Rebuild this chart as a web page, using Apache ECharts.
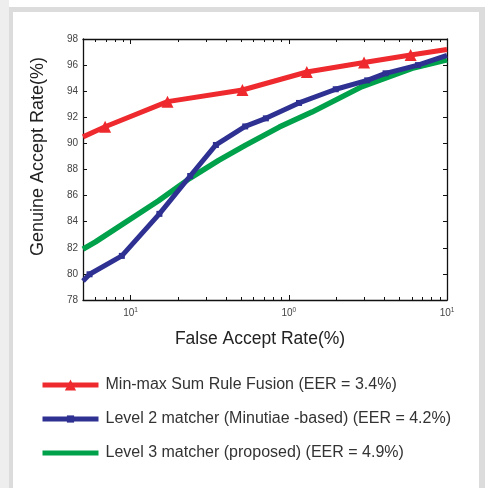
<!DOCTYPE html>
<html><head><meta charset="utf-8">
<script src="https://cdn.jsdelivr.net/npm/echarts@6/dist/echarts.min.js"></script>
<style>html,body{margin:0;padding:0;background:#fff}#c{width:488px;height:488px}</style>
</head><body><div id="c"></div>
<script>
// Data (FAR %, GAR %)
const seriesNames = [
  'Min-max Sum Rule Fusion (EER = 3.4%)',
  'Level 2 matcher (Minutiae -based) (EER = 4.2%)',
  'Level 3 matcher (proposed) (EER = 4.9%)'
];
const fusionFAR = [0.05, 0.069, 0.171, 0.509, 1.3, 2.99, 5.89, 10];
const fusionGAR = [90.5, 91.28, 93.2, 94.09, 95.47, 96.2, 96.77, 97.2];
const fusionMarked = [false, true, true, true, true, true, true, false];

const level2FAR = [0.05, 0.055, 0.088, 0.152, 0.238, 0.346, 0.53, 0.716, 1.16, 1.98, 3.13, 4.09, 6.55, 10];
const level2GAR = [79.45, 79.97, 81.38, 84.6, 87.5, 89.88, 91.3, 91.92, 93.1, 94.15, 94.83, 95.37, 96.0, 96.75];
const level2Marked = [false, true, true, true, true, true, true, true, true, true, true, true, true, false];

const level3FAR = [0.05, 0.06, 0.15, 0.235, 0.36, 0.53, 0.87, 1.4, 2.9, 6, 10];
const level3GAR = [81.9, 82.45, 85.6, 87.3, 88.7, 89.85, 91.25, 92.4, 94.35, 95.75, 96.4];

const xMajorTicks = [0.1, 1, 10];
const xTickLabels = {0.1: '10{s|1}', 1: '10{s|0}', 10: '10{s|1}'};
const xMinorTicks = [0.06, 0.07, 0.08, 0.09, 0.2, 0.3, 0.4, 0.5, 0.6, 0.7, 0.8, 0.9, 2, 3, 4, 5, 6, 7, 8, 9];
const yMin = 78, yMax = 98, yStep = 2;

function pts(xs, ys, marked) {
  return xs.map((x, i) => (marked && !marked[i]) ? {value: [x, ys[i]], symbol: 'none'} : [x, ys[i]]);
}

const FONT = 'Liberation Sans, Arial, sans-serif';
const xMin = 0.05, xMax = 10;
function xAx(pos, ticks, len, showLine, showLabel) {
  return {
    type: 'log', logBase: 10, min: xMin, max: xMax, position: pos,
    axisLine: {show: showLine, onZero: false, lineStyle: {color: '#111', width: 1.3}},
    axisTick: {show: true, inside: true, length: len, customValues: ticks, lineStyle: {color: '#111', width: 1}},
    splitLine: {show: false}, minorTick: {show: false},
    axisLabel: showLabel ? {
      show: true, customValues: xMajorTicks, margin: 7,
      formatter: v => { for (const k in xTickLabels) { if (Math.abs(Math.log10(v) - Math.log10(+k)) < 1e-6) return xTickLabels[k]; } return ''; },
      color: '#444', fontFamily: FONT, fontSize: 10,
      rich: {s: {fontSize: 6.5, verticalAlign: 'top', padding: [0, 0, 5, 0], color: '#444', fontFamily: FONT}}
    } : {show: false}
  };
}

const legendText = {fontFamily: FONT, fontSize: 16, color: '#333', padding: [0, 0, 0, 2]};
const chart = echarts.init(document.getElementById('c'), null, {renderer: 'canvas'});
chart.setOption({
  backgroundColor: '#ffffff',
  animation: false,
  graphic: [
    {type: 'rect', shape: {x: 0, y: 0, width: 9, height: 488}, style: {fill: '#eeeeee'}, silent: true},
    {type: 'rect', shape: {x: 9, y: 7, width: 4, height: 481}, style: {fill: '#dcdcdc'}, silent: true},
    {type: 'rect', shape: {x: 9, y: 7, width: 476, height: 5}, style: {fill: '#dcdcdc'}, silent: true},
    {type: 'rect', shape: {x: 479, y: 7, width: 6, height: 481}, style: {fill: '#dcdcdc'}, silent: true}
  ],
  grid: {left: 83, right: 41, top: 39, bottom: 188, containLabel: false},
  xAxis: [
    Object.assign(xAx('bottom', xMajorTicks, 5, true, true), {
      name: 'False Accept Rate(%)', nameLocation: 'middle', nameGap: 30,
      nameTextStyle: {fontFamily: FONT, fontSize: 17.5, color: '#222', padding: [0, 10, 0, 0]}
    }),
    xAx('bottom', xMinorTicks, 3, false, false),
    xAx('top', xMajorTicks, 5, true, false),
    xAx('top', xMinorTicks, 3, false, false)
  ],
  yAxis: [
    {
      type: 'value', min: yMin, max: yMax, interval: yStep, position: 'left',
      name: 'Genuine Accept Rate(%)', nameLocation: 'middle', nameGap: 36,
      nameTextStyle: {fontFamily: FONT, fontSize: 18, color: '#222', padding: [0, 0, 0, 26]},
      axisLine: {show: true, lineStyle: {color: '#111', width: 1.3}},
      axisTick: {show: true, inside: true, length: 4, lineStyle: {color: '#111'}},
      splitLine: {show: false},
      axisLabel: {color: '#444', fontFamily: FONT, fontSize: 10, margin: 5}
    },
    {
      type: 'value', min: yMin, max: yMax, interval: yStep, position: 'right',
      axisLine: {show: true, lineStyle: {color: '#111', width: 1.3}},
      axisTick: {show: true, inside: true, length: 4, lineStyle: {color: '#111'}},
      splitLine: {show: false}, axisLabel: {show: false}
    }
  ],
  legend: [
    {
      orient: 'vertical', left: 40, top: 377, padding: 0, itemWidth: 56, itemHeight: 14,
      textStyle: legendText, lineStyle: {width: 5},
      data: [seriesNames[0]]
    },
    {
      orient: 'vertical', left: 40, top: 411, padding: 0, itemWidth: 56, itemHeight: 9, itemGap: 18,
      textStyle: legendText, lineStyle: {width: 5},
      data: [seriesNames[1], {name: seriesNames[2], itemStyle: {opacity: 0}}]
    }
  ],
  series: [
    {
      name: seriesNames[2], type: 'line', xAxisIndex: 0, yAxisIndex: 0,
      data: pts(level3FAR, level3GAR), symbol: 'none', smooth: false,
      lineStyle: {color: '#00a14b', width: 5.5}, itemStyle: {color: '#00a14b'}, z: 2
    },
    {
      name: seriesNames[1], type: 'line', xAxisIndex: 0, yAxisIndex: 0,
      data: pts(level2FAR, level2GAR, level2Marked), symbol: 'rect', symbolSize: 6,
      lineStyle: {color: '#2e3192', width: 5}, itemStyle: {color: '#2e3192'}, z: 3
    },
    {
      name: seriesNames[0], type: 'line', xAxisIndex: 0, yAxisIndex: 0,
      data: pts(fusionFAR, fusionGAR, fusionMarked), symbol: 'triangle', symbolSize: 12,
      lineStyle: {color: '#ee2a2e', width: 5}, itemStyle: {color: '#ee2a2e'}, z: 4
    }
  ]
});
</script></body></html>
